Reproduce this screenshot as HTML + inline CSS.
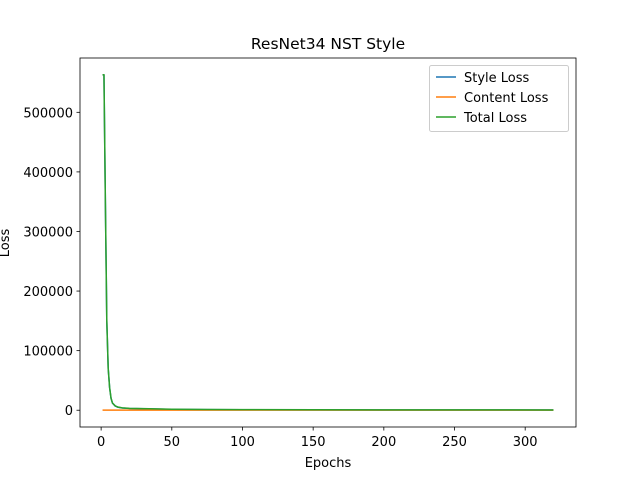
<!DOCTYPE html>
<html><head><meta charset="utf-8"><style>
body{margin:0;background:#fff;}
svg text{font-family:"DejaVu Sans","Liberation Sans",sans-serif;fill:#000;}
</style></head><body>
<svg width="640" height="480" viewBox="0 0 640 480">
<rect width="640" height="480" fill="#fff"/>
<g id="plot"></g>
</svg>
<script>
const epochs=[1,2,3,4,5,6,7,8,10,12,15,20,30,50,75,100,150,200,250,320];
const styleLoss=[562800,562800,350000,150000,70000,38000,20000,12000,7000,5000,3800,3000,2400,1500,1100,800,550,400,330,280];
const contentLoss=[200,200,200,200,200,200,200,200,200,200,200,200,200,200,200,200,200,200,200,200];
const xTicks=[0,50,100,150,200,250,300];
const yTicks=[0,100000,200000,300000,400000,500000];
const L=80,R=576,T=58,B=427;
const xmin=-14.95,xmax=335.95,ymin=-28150,ymax=591150;
const sx=v=>L+(v-xmin)/(xmax-xmin)*(R-L);
const sy=v=>B-(v-ymin)/(ymax-ymin)*(B-T);
const NS="http://www.w3.org/2000/svg";
const g=document.getElementById('plot');
function el(t,a,p){const e=document.createElementNS(NS,t);for(const k in a)e.setAttribute(k,a[k]);(p||g).appendChild(e);return e;}
const totalLoss=styleLoss.map((v,i)=>v+contentLoss[i]);
function series(vals,color,name){
 const pts=epochs.map((x,i)=>sx(x).toFixed(2)+','+sy(vals[i]).toFixed(2)).join(' ');
 const p=el('polyline',{points:pts,fill:'none',stroke:color,'stroke-width':1.5,'stroke-linejoin':'round'});
 
 
}
series(styleLoss,'#1f77b4','style-loss-line');
series(contentLoss,'#ff7f0e','content-loss-line');
series(totalLoss,'#2ca02c','total-loss-line');
const frame=el('rect',{x:L,y:T,width:R-L,height:B-T,fill:'none',stroke:'#000','stroke-width':0.8});


xTicks.forEach(v=>{const x=sx(v);el('line',{x1:x,x2:x,y1:B,y2:B+3.5,stroke:'#000','stroke-width':0.8});
 const t=el('text',{x:x,y:B+19,'font-size':13,'text-anchor':'middle'});t.textContent=v;
 
 });
yTicks.forEach(v=>{const y=sy(v);el('line',{x1:L,x2:L-3.5,y1:y,y2:y,stroke:'#000','stroke-width':0.8});
 const t=el('text',{x:L-7,y:y+5,'font-size':13,'text-anchor':'end'});t.textContent=v;
 
 });
</script>
<svg style="position:absolute;left:0;top:0" width="640" height="480">
<text x="328" y="49" font-size="15.5" text-anchor="middle">ResNet34 NST Style</text>
<text x="328" y="467" font-size="13" text-anchor="middle">Epochs</text>
<text x="0" y="0" font-size="13" text-anchor="middle" transform="translate(9,243) rotate(-90)">Loss</text>
<g>
<rect x="429.5" y="65.5" width="139" height="66" rx="2" fill="#fff" fill-opacity="0.8" stroke="#ccc"/>
<line x1="436" x2="456" y1="77" y2="77" stroke="#1f77b4" stroke-width="1.5"/>
<text x="464" y="82" font-size="13">Style Loss</text>
<line x1="436" x2="456" y1="97" y2="97" stroke="#ff7f0e" stroke-width="1.5"/>
<text x="464" y="102" font-size="13">Content Loss</text>
<line x1="436" x2="456" y1="117" y2="117" stroke="#2ca02c" stroke-width="1.5"/>
<text x="464" y="122" font-size="13">Total Loss</text>
</g>
</svg>
</body></html>
